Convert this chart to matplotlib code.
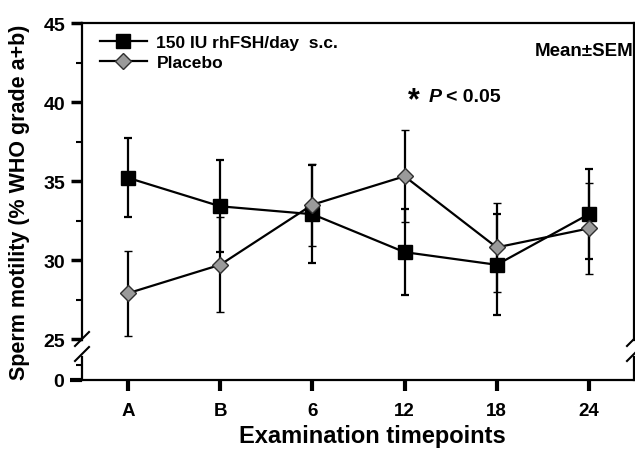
import matplotlib
matplotlib.use("Agg")
import matplotlib.pyplot as plt
from matplotlib.lines import Line2D

plt.rcParams['font.family'] = ['Liberation Sans', 'DejaVu Sans']
plt.rcParams['font.weight'] = 'bold'

timepoints = ['A', 'B', '6', '12', '18', '24']
fsh_mean = [35.2, 33.4, 32.9, 30.5, 29.7, 32.9]
fsh_sem = [2.5, 2.9, 3.1, 2.7, 3.2, 2.85]
placebo_mean = [27.9, 29.7, 33.5, 35.3, 30.8, 32.0]
placebo_sem = [2.7, 3.0, 2.6, 2.9, 2.8, 2.9]
y_ticks_top = [25, 30, 35, 40, 45]

W, H = 635, 460


def fx(x):
    return x / W


def fy(y):
    return 1 - y / H


def __axes_rect(left, top, right, bottom):
    return [fx(left), fy(bottom), fx(right) - fx(left), fy(top) - fy(bottom)]


def main():
    fig = plt.figure(figsize=(W / 100, H / 100), dpi=100)
    ax = fig.add_axes(__axes_rect(82, 24, 634, 341))
    axb = fig.add_axes(__axes_rect(82, 358, 634, 381))

    x = list(range(len(timepoints)))
    for a in (ax, axb):
        a.set_xlim(-0.5, 5.49)
        for s in a.spines.values():
            s.set_linewidth(1.6)

    ax.set_ylim(24.94, 45)
    ax.spines['bottom'].set_visible(False)
    ax.set_yticks(y_ticks_top)
    ax.set_yticks([27.5, 32.5, 37.5, 42.5], minor=True)
    ax.set_xticks([])
    ax.tick_params(axis='y', which='major', direction='out', length=8, width=2.5,
                   labelsize=14, pad=4)
    ax.tick_params(axis='y', which='minor', direction='out', length=4, width=1.5)

    axb.set_ylim(0, 1.5)
    axb.spines['top'].set_visible(False)
    axb.set_yticks([0])
    axb.set_yticks([1.0], minor=True)
    axb.tick_params(axis='y', which='major', direction='out', length=9, width=3,
                    labelsize=14, pad=4)
    axb.tick_params(axis='y', which='minor', direction='out', length=4, width=1.5)
    axb.set_xticks(x)
    axb.set_xticklabels(timepoints)
    axb.tick_params(axis='x', direction='out', length=8, width=3, labelsize=13.5, pad=8)

    ax.errorbar(x, fsh_mean, yerr=fsh_sem, color='black', lw=1.6, elinewidth=1.6,
                capsize=2.6, capthick=1.6, marker='s', ms=9.5, mfc='black', mec='black',
                zorder=3)
    ax.errorbar(x, placebo_mean, yerr=placebo_sem, color='black', lw=1.6, elinewidth=1.6,
                capsize=2.6, capthick=1.6, marker='D', ms=7.8, mfc='#9a9a9a', mec='#303030',
                mew=1.0, zorder=4)

    handles = [
        Line2D([], [], color='black', lw=1.6, marker='s', ms=9.5, mfc='black'),
        Line2D([], [], color='black', lw=1.6, marker='D', ms=7.8, mfc='#9a9a9a', mec='#303030', mew=1.0),
    ]
    fig.legend(handles, ['150 IU rhFSH/day  s.c.', 'Placebo'], loc='upper left',
               bbox_to_anchor=(fx(100), fy(36)), frameon=False, fontsize=12.5,
               handlelength=2.7, handletextpad=0.55, labelspacing=0.25, borderpad=0,
               borderaxespad=0)

    fig.text(fx(633), fy(52), 'Mean\u00b1SEM', ha='right', va='center', fontsize=13.5)
    fig.text(fx(408), fy(101), '*', ha='left', va='center', fontsize=22)
    fig.text(fx(429), fy(97), 'P', ha='left', va='center', fontsize=14, style='italic')
    fig.text(fx(446), fy(97), '< 0.05', ha='left', va='center', fontsize=14)

    fig.text(fx(372), fy(437), 'Examination timepoints', ha='center', va='center', fontsize=17)
    fig.text(fx(20), fy(202), 'Sperm motility (% WHO grade a+b)', ha='center', va='center',
             rotation=90, fontsize=15.5)

    # axis break marks
    for x0 in (75, 627):
        for y0 in (347, 362):
            fig.add_artist(Line2D([fx(x0), fx(x0 + 14)], [fy(y0), fy(y0 - 14)],
                                  color='black', lw=1.5))

    plt.savefig('out.png', dpi=100)
    plt.close()


if __name__ == "__main__":
    main()
